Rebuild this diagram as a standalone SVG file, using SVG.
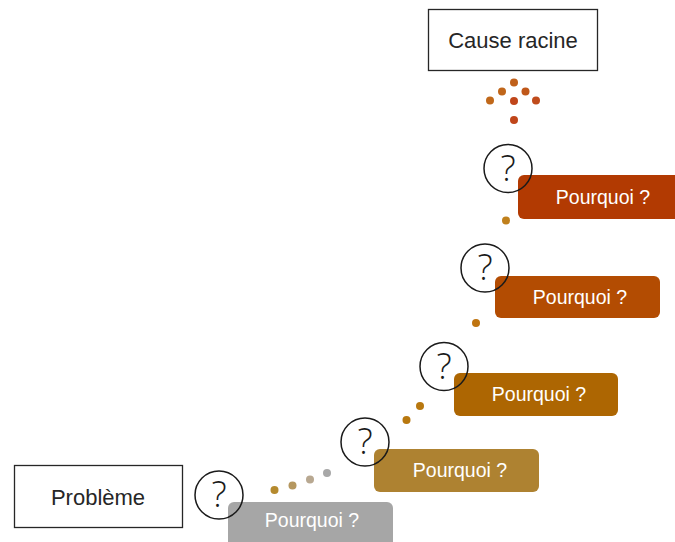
<svg xmlns="http://www.w3.org/2000/svg" width="675" height="542" viewBox="0 0 675 542">
  <style>
    .frame { fill: #ffffff; stroke: #262626; stroke-width: 1.3; }
    .frame-text { font-family: "Liberation Sans", Arial, sans-serif; font-size: 22px; fill: #262626; text-anchor: middle; dominant-baseline: central; }
    .why { stroke: none; }
    .why-text { font-family: "Liberation Sans", Arial, sans-serif; font-size: 19.5px; fill: #ffffff; text-anchor: middle; dominant-baseline: central; }
    .ring { fill: none; stroke: #1a1a1a; stroke-width: 1.5; }
    .qmark { font-family: "Open Sans", "Liberation Sans", sans-serif; font-weight: 300; font-size: 36px; fill: #1a1a1a; text-anchor: middle; }
  </style>

  <!-- dotted path from the problem up to the root cause -->
  <g id="connectors">
    <circle cx="274.5" cy="490" r="4" fill="#b58a2e"/>
    <circle cx="292.5" cy="485.5" r="4" fill="#b5975f"/>
    <circle cx="310" cy="479.5" r="4" fill="#b8a891"/>
    <circle cx="327" cy="473" r="4" fill="#a8a8a8"/>
    <circle cx="406.5" cy="420" r="4" fill="#b8780f"/>
    <circle cx="420" cy="406" r="4" fill="#b8780f"/>
    <circle cx="476" cy="323" r="4" fill="#bf7410"/>
    <circle cx="506" cy="220.5" r="4" fill="#c0801c"/>
    <!-- arrowhead made of dots -->
    <circle cx="514" cy="120" r="4" fill="#c0461a"/>
    <circle cx="514" cy="101" r="4" fill="#c0461a"/>
    <circle cx="490" cy="100.5" r="4" fill="#c0681a"/>
    <circle cx="536" cy="100.5" r="4" fill="#c04c1c"/>
    <circle cx="502" cy="91.5" r="4" fill="#c0661a"/>
    <circle cx="525.5" cy="91.5" r="4" fill="#c0581a"/>
    <circle cx="514" cy="82.5" r="4" fill="#c0601a"/>
  </g>

  <g id="probleme">
    <rect class="frame" x="14.5" y="465.5" width="168" height="62"/>
    <text class="frame-text" x="98" y="497">Problème</text>
  </g>

  <g id="cause-racine">
    <rect class="frame" x="428.5" y="9.5" width="169" height="61"/>
    <text class="frame-text" x="513" y="40">Cause racine</text>
  </g>

  <g id="pourquoi-1">
    <rect class="why" x="228" y="502" width="165" height="50" rx="6" fill="#a6a6a6"/>
    <text class="why-text" x="312" y="520">Pourquoi ?</text>
    <circle class="ring" cx="219" cy="495" r="24"/>
    <text class="qmark" x="219" y="507">?</text>
  </g>

  <g id="pourquoi-2">
    <rect class="why" x="374" y="449" width="165" height="43" rx="6" fill="#ae8231"/>
    <text class="why-text" x="460" y="470">Pourquoi ?</text>
    <circle class="ring" cx="365" cy="442" r="24"/>
    <text class="qmark" x="365" y="454">?</text>
  </g>

  <g id="pourquoi-3">
    <rect class="why" x="454" y="373" width="164" height="43" rx="6" fill="#ad6602"/>
    <text class="why-text" x="539" y="394">Pourquoi ?</text>
    <circle class="ring" cx="444" cy="366.5" r="24"/>
    <text class="qmark" x="444" y="378.5">?</text>
  </g>

  <g id="pourquoi-4">
    <rect class="why" x="495" y="276" width="165" height="42" rx="6" fill="#b34c02"/>
    <text class="why-text" x="580" y="297">Pourquoi ?</text>
    <circle class="ring" cx="485" cy="268" r="24"/>
    <text class="qmark" x="485" y="280">?</text>
  </g>

  <g id="pourquoi-5">
    <rect class="why" x="518" y="175" width="170" height="44" rx="6" fill="#b23a02"/>
    <text class="why-text" x="603" y="197">Pourquoi ?</text>
    <circle class="ring" cx="508" cy="168.5" r="24"/>
    <text class="qmark" x="508" y="180.5">?</text>
  </g>
</svg>
